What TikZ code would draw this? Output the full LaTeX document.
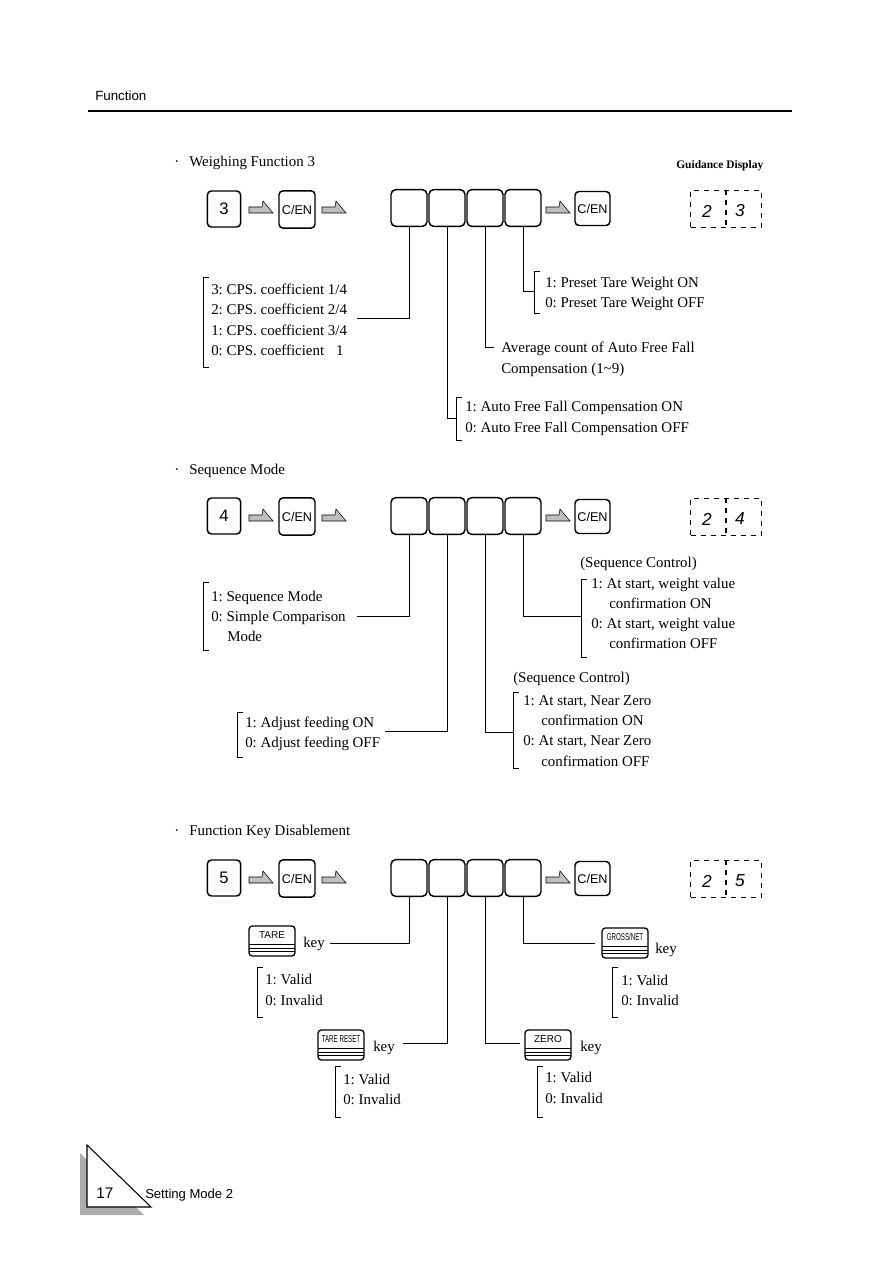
\documentclass[tikz,border=0pt]{standalone}
\usepackage{fontspec}
\setmainfont{Liberation Serif}
\setsansfont{Liberation Sans}
\frenchspacing
\newcommand\keyicon[4]{%
  \node[kicon] (#1) at (#2,#3) {};
  \node[klabel] (#1l) at (#2,{#3-6}) {#4};
  \draw[line width=0.6pt] ({#2-23},{#3+3}) -- ({#2+23},{#3+3});
  \draw[line width=0.6pt] ({#2-23},{#3+7}) -- ({#2+23},{#3+7});
  \draw[line width=0.6pt] ({#2-23},{#3+10.5}) -- ({#2+23},{#3+10.5});
}
\begin{document}
\begin{tikzpicture}[x=0.75pt,y=-0.75pt,
  txt/.style={anchor=base west,inner sep=0pt,font=\fontsize{11.2}{13}\selectfont},
  conn/.style={line width=0.7pt},
  brk/.style={line width=0.7pt},
  keybox/.style={draw,line width=1.1pt,rounded corners=3pt,inner sep=0pt,font=\sffamily\fontsize{9.5}{11}\selectfont},
  digbox/.style={draw,line width=1.1pt,rounded corners=3.5pt,minimum width=27pt,minimum height=27.5pt,inner sep=0pt},
  kicon/.style={draw,line width=1pt,rounded corners=2.5pt,minimum width=34.5pt,minimum height=22.5pt,inner sep=0pt},
  klabel/.style={inner sep=0pt,font=\sffamily\fontsize{7.5}{8}\selectfont},
  guid/.style={draw,line width=1.1pt,dash pattern=on 4pt off 3.5pt,minimum width=53pt,minimum height=28pt,inner sep=0pt},
  gdig/.style={inner sep=0pt,font=\sffamily\itshape\fontsize{13}{14}\selectfont},
  fatarrow/.pic={\filldraw[fill=gray!50,draw=black,line width=0.4pt] (0,-3)--(13,-3)--(14,-9)--(24,3)--(0,3)--cycle;}
]
\useasboundingbox (0,0) rectangle (890,1262);

% header
\node[anchor=base west,inner sep=0pt,font=\sffamily\fontsize{10}{12}\selectfont] (hdr) at (95,101) {Function};
\draw[line width=1.8pt] (88,111) -- (792,111);

% ================= Section 1 =================
\node[txt] (bul1) at (174,167) {\textperiodcentered};
\node[txt] (t1) at (189,167) {Weighing Function 3};
\node[anchor=base west,inner sep=0pt,font=\bfseries\fontsize{8.6}{10}\selectfont] (gdt) at (676,169) {Guidance Display};

\node[keybox,minimum width=25pt,minimum height=27pt,font=\sffamily\fontsize{12.5}{13}\selectfont] (k1) at (224,209) {3};
\pic at (249,210) {fatarrow};
\node[keybox,minimum width=27pt,minimum height=28pt] (c1a) at (297,209.5) {C/EN};
\pic at (322,210) {fatarrow};
\node[digbox] (a1) at (409,208) {};
\node[digbox] (a2) at (447,208) {};
\node[digbox] (a3) at (485,208) {};
\node[digbox] (a4) at (523,208) {};
\pic at (546,210) {fatarrow};
\node[keybox,minimum width=26.25pt,minimum height=25.5pt] (c1b) at (592.5,208.5) {C/EN};
\node[guid] (g1) at (726,209) {};
\draw[line width=1.1pt,dash pattern=on 4pt off 3.5pt] (g1.north) -- (g1.south);
\node[gdig] (g1a) at (707,211) {2};
\node[gdig] (g1b) at (740,211) {3};

% left bracket
\draw[brk] (209,277) -- (203,277) -- (203,367) -- (209,367);
\node[txt] (l1a) at (211,295) {3: CPS. coefficient 1/4};
\node[txt] (l1b) at (211,315) {2: CPS. coefficient 2/4};
\node[txt] (l1c) at (211,335) {1: CPS. coefficient 3/4};
\node[txt] (l1d) at (211,355) {0: CPS. coefficient\hspace{9pt}1};
\coordinate (e1) at (357,318);
\draw[conn] (a1.south) |- (e1);

% box4 -> preset tare
\draw[brk] (540,271) -- (534,271) -- (534,313) -- (540,313);
\coordinate (e4) at (534,291);
\draw[conn] (a4.south) |- (e4);
\node[txt] (r1a) at (545,287) {1: Preset Tare Weight ON};
\node[txt] (r1b) at (545,307) {0: Preset Tare Weight OFF};

% box3 -> average count
\coordinate (e3) at (494,347);
\draw[conn] (a3.south) |- (e3);
\node[txt] (m1a) at (501,352) {Average count of Auto Free Fall};
\node[txt] (m1b) at (501,373) {Compensation (1\textasciitilde9)};

% box2 -> auto free fall
\draw[brk] (462,397) -- (456,397) -- (456,440) -- (462,440);
\coordinate (e2) at (456,418);
\draw[conn] (a2.south) |- (e2);
\node[txt] (n1a) at (465,411) {1: Auto Free Fall Compensation ON};
\node[txt] (n1b) at (465,432) {0: Auto Free Fall Compensation OFF};

% ================= Section 2 =================
\node[txt] (bul2) at (174,474) {\textperiodcentered};
\node[txt] (t2) at (189,474) {Sequence Mode};

\node[keybox,minimum width=25pt,minimum height=27pt,font=\sffamily\fontsize{12.5}{13}\selectfont] (k2) at (224,516) {4};
\pic at (249,518) {fatarrow};
\node[keybox,minimum width=27pt,minimum height=28pt] (c2a) at (297,516.5) {C/EN};
\pic at (322,518) {fatarrow};
\node[digbox] (b1) at (409,516) {};
\node[digbox] (b2) at (447,516) {};
\node[digbox] (b3) at (485,516) {};
\node[digbox] (b4) at (523,516) {};
\pic at (546,518) {fatarrow};
\node[keybox,minimum width=26.25pt,minimum height=25.5pt] (c2b) at (592.5,516.5) {C/EN};
\node[guid] (g2) at (726,517) {};
\draw[line width=1.1pt,dash pattern=on 4pt off 3.5pt] (g2.north) -- (g2.south);
\node[gdig] (g2a) at (707,519) {2};
\node[gdig] (g2b) at (740,519) {4};

\draw[brk] (209,582) -- (203,582) -- (203,650) -- (209,650);
\node[txt] (l2a) at (211,601) {1: Sequence Mode};
\node[txt] (l2b) at (211,621) {0: Simple Comparison};
\node[txt] (l2c) at (227,641) {Mode};
\coordinate (f1) at (357,616);
\draw[conn] (b1.south) |- (f1);

\node[txt] (s2h) at (580,567) {(Sequence Control)};
\draw[brk] (587,579) -- (581,579) -- (581,657) -- (587,657);
\coordinate (f4) at (581,616);
\draw[conn] (b4.south) |- (f4);
\node[txt] (r2a) at (591,588) {1: At start, weight value};
\node[txt] (r2b) at (609,608) {confirmation ON};
\node[txt] (r2c) at (591,628) {0: At start, weight value};
\node[txt] (r2d) at (609,648) {confirmation OFF};

\draw[brk] (243,712) -- (237,712) -- (237,757) -- (243,757);
\node[txt] (n2a) at (245,727) {1: Adjust feeding ON};
\node[txt] (n2b) at (245,747) {0: Adjust feeding OFF};
\coordinate (f2) at (385,731);
\draw[conn] (b2.south) |- (f2);

\node[txt] (s3h) at (513,682) {(Sequence Control)};
\draw[brk] (519,692) -- (513,692) -- (513,768) -- (519,768);
\coordinate (f3) at (513,732);
\draw[conn] (b3.south) |- (f3);
\node[txt] (m2a) at (523,705) {1: At start, Near Zero};
\node[txt] (m2b) at (541,725) {confirmation ON};
\node[txt] (m2c) at (523,745) {0: At start, Near Zero};
\node[txt] (m2d) at (541,766) {confirmation OFF};

% ================= Section 3 =================
\node[txt] (bul3) at (174,835) {\textperiodcentered};
\node[txt] (t3) at (189,835) {Function Key Disablement};

\node[keybox,minimum width=25pt,minimum height=27pt,font=\sffamily\fontsize{12.5}{13}\selectfont] (k3) at (224,878) {5};
\pic at (249,880) {fatarrow};
\node[keybox,minimum width=27pt,minimum height=28pt] (c3a) at (297,878.5) {C/EN};
\pic at (322,880) {fatarrow};
\node[digbox] (d1) at (409,878) {};
\node[digbox] (d2) at (447,878) {};
\node[digbox] (d3) at (485,878) {};
\node[digbox] (d4) at (523,878) {};
\pic at (546,880) {fatarrow};
\node[keybox,minimum width=26.25pt,minimum height=25.5pt] (c3b) at (592.5,878.5) {C/EN};
\node[guid] (g3) at (726,879) {};
\draw[line width=1.1pt,dash pattern=on 4pt off 3.5pt] (g3.north) -- (g3.south);
\node[gdig] (g3a) at (707,881) {2};
\node[gdig] (g3b) at (740,881) {5};

% TARE
\keyicon{ktare}{272}{941}{TARE}
\node[txt] (kt) at (303,947) {key};
\coordinate (h1) at (330,943);
\draw[conn] (d1.south) |- (h1);
\draw[brk] (263,967) -- (257,967) -- (257,1017) -- (263,1017);
\node[txt] (v1a) at (265,984) {1: Valid};
\node[txt] (v1b) at (265,1005) {0: Invalid};

% GROSS/NET
\keyicon{kgn}{625}{943}{\scalebox{0.62}[1]{GROSS/NET}}
\node[txt] (kg) at (655,953) {key};
\coordinate (h4) at (595,943);
\draw[conn] (d4.south) |- (h4);
\draw[brk] (618,967) -- (612,967) -- (612,1017) -- (618,1017);
\node[txt] (v4a) at (621,985) {1: Valid};
\node[txt] (v4b) at (621,1005) {0: Invalid};

% TARE RESET
\keyicon{ktr}{341}{1045}{\scalebox{0.62}[1]{TARE RESET}}
\node[txt] (ktrk) at (373,1051) {key};
\coordinate (h2) at (403,1043);
\draw[conn] (d2.south) |- (h2);
\draw[brk] (341,1066) -- (335,1066) -- (335,1117) -- (341,1117);
\node[txt] (v2a) at (343,1084) {1: Valid};
\node[txt] (v2b) at (343,1104) {0: Invalid};

% ZERO
\keyicon{kz}{548}{1045}{ZERO}
\node[txt] (kzk) at (580,1051) {key};
\coordinate (h3) at (520,1043);
\draw[conn] (d3.south) |- (h3);
\draw[brk] (543,1066) -- (537,1066) -- (537,1117) -- (543,1117);
\node[txt] (v3a) at (545,1082) {1: Valid};
\node[txt] (v3b) at (545,1103) {0: Invalid};

% footer
\fill[gray!65] (80,1153) -- (80,1215) -- (144,1215) -- cycle;
\filldraw[fill=white,draw=black,line width=0.8pt] (87,1145) -- (87,1207) -- (151,1207) -- cycle;
\node[anchor=base west,inner sep=0pt,font=\sffamily\fontsize{11.5}{12}\selectfont] (pg) at (96,1198) {17};
\node[anchor=base west,inner sep=0pt,font=\sffamily\fontsize{9.8}{12}\selectfont] (ft) at (145,1198) {Setting Mode 2};
\end{tikzpicture}
\end{document}
